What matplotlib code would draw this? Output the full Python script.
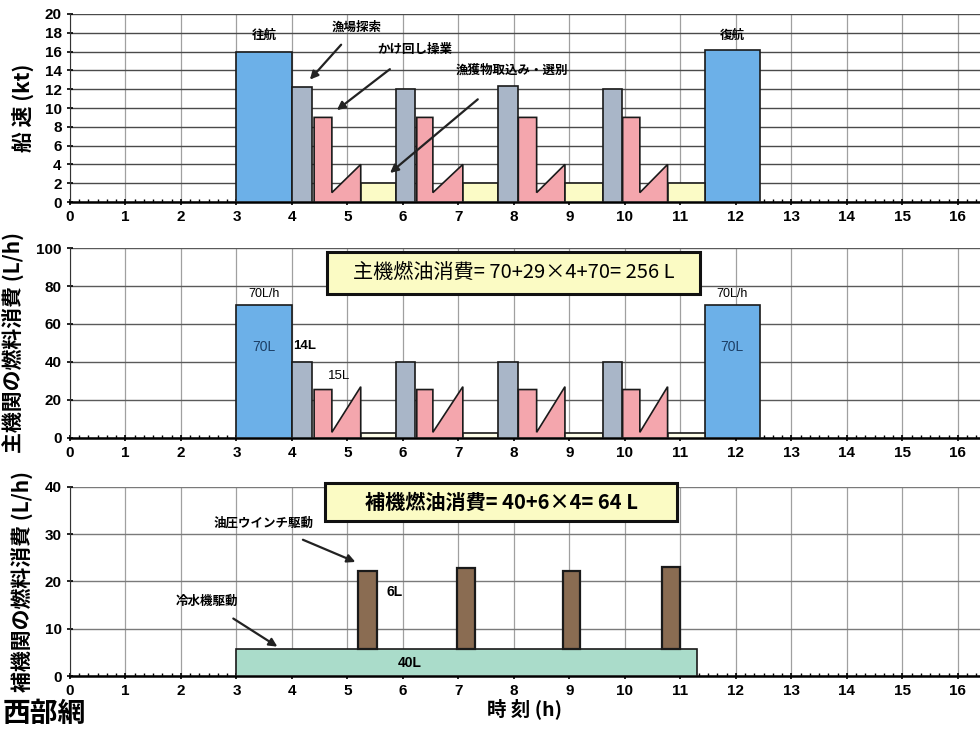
import matplotlib
matplotlib.use("Agg")
import matplotlib.pyplot as plt
from matplotlib.patches import Rectangle
from matplotlib.ticker import MultipleLocator

JP = ["Noto Sans CJK JP", "DejaVu Sans"]
NUM = ["Liberation Sans Narrow", "Liberation Sans", "DejaVu Sans"]
plt.rcParams["font.family"] = JP

# --- data (hours, values) ---
outbound = (3.0, 4.0)           # 往航
return_leg = (11.44, 12.43)     # 復航
search_start = [4.0, 5.88, 7.71, 9.60]      # 漁場探索
search_end = [4.37, 6.22, 8.07, 9.95]
haul_start = [4.40, 6.25, 8.08, 9.96]       # かけ回し操業
haul_step = [4.72, 6.54, 8.41, 10.27]
haul_end = [5.24, 7.08, 8.92, 10.77]
sort_end = [5.87, 7.71, 9.60, 11.44]        # 漁獲物取込み・選別

# ship speed (kt)
spd_outbound, spd_return = 16.0, 16.2
spd_search = [12.2, 12.0, 12.3, 12.0]
spd_haul, spd_haul_low, spd_haul_peak = 9.0, 1.0, 4.0
spd_sort = 2.0

# main engine fuel (L/h)
me_transit = 70
me_search = 40
me_haul, me_haul_low, me_haul_peak = 25.5, 3.0, 27.0
me_sort = 2.5

# auxiliary engine fuel (L/h)
chiller_span = (3.0, 11.3)
chiller_rate = 5.7
winch_start = [5.19, 6.97, 8.88, 10.67]
winch_end = [5.53, 7.30, 9.20, 10.99]
winch_top = [22.2, 22.9, 22.3, 23.1]

C_BLUE = "#6cb0e8"
C_GRAY = "#a9b6c8"
C_PINK = "#f4a6ad"
C_YEL = "#fbfbc6"
C_TEAL = "#aadcca"
C_BROWN = "#8a6c52"
EDGE = "#1a1a1a"

fig = plt.figure(figsize=(9.8, 7.29), dpi=100)
ax1 = fig.add_axes([0.0714, 0.7229, 0.9286, 0.2579])
ax2 = fig.add_axes([0.0714, 0.3992, 0.9286, 0.2606])
ax3 = fig.add_axes([0.0714, 0.0727, 0.9286, 0.2593])


def style(ax, ymax, ystep, ylabel, ygrid):
    ax.set_xlim(0, 16.4)
    ax.set_ylim(0, ymax)
    ax.xaxis.set_major_locator(MultipleLocator(1))
    ax.xaxis.set_minor_locator(MultipleLocator(1 / 6))
    ax.yaxis.set_major_locator(MultipleLocator(ystep))
    ax.grid(axis="x", color="#a0a0a0", lw=0.9)
    ax.grid(axis="y", color=ygrid, lw=1.0)
    ax.set_axisbelow(True)
    for s in ("top", "right"):
        ax.spines[s].set_visible(False)
    ax.spines["left"].set_color("#333333")
    ax.spines["bottom"].set_linewidth(1.8)
    ax.tick_params(axis="both", which="major", length=4, width=1.2,
                   direction="inout", labelsize=11, pad=4)
    ax.tick_params(axis="x", which="minor", length=2.5, width=1.0,
                   direction="in")
    for lab in ax.get_xticklabels() + ax.get_yticklabels():
        lab.set_family(NUM)
        lab.set_fontweight("bold")
    ax.set_ylabel(ylabel, fontsize=15, fontweight="bold", labelpad=8)


def bar(ax, x0, x1, h, color, bottom=0, lw=1.2):
    ax.bar(x0, h, width=x1 - x0, bottom=bottom, align="edge",
           color=color, edgecolor=EDGE, linewidth=lw, zorder=3)


def haul_shape(ax, x0, xs, x1, h, low, peak):
    ax.fill([x0, x0, xs, xs, x1, x1], [0, h, h, low, peak, 0],
            facecolor=C_PINK, edgecolor=EDGE, linewidth=1.2, zorder=3)


def note_box(ax, x0, x1, y0, y1, text, bold):
    ax.add_patch(Rectangle((x0, y0), x1 - x0, y1 - y0, facecolor="#fbfbc4",
                           edgecolor="#111111", linewidth=2.2, zorder=6,
                           clip_on=False))
    ax.text((x0 + x1) / 2, (y0 + y1) / 2, text, ha="center", va="center",
            fontsize=14.5, fontweight="bold" if bold else "normal",
            zorder=7, clip_on=False)


# ---- panel 1: ship speed ----
style(ax1, 20, 2, "船 速 (kt)", "#4a4a4a")
bar(ax1, *outbound, spd_outbound, C_BLUE)
bar(ax1, *return_leg, spd_return, C_BLUE)
for i in range(4):
    bar(ax1, search_start[i], search_end[i], spd_search[i], C_GRAY)
    haul_shape(ax1, haul_start[i], haul_step[i], haul_end[i],
               spd_haul, spd_haul_low, spd_haul_peak)
    bar(ax1, haul_end[i], sort_end[i], spd_sort, C_YEL)

ax1.text(3.5, 17.3, "往航", ha="center", fontsize=9, fontweight="bold")
ax1.text(11.93, 17.3, "復航", ha="center", fontsize=9, fontweight="bold")
arrow = dict(arrowstyle="-|>", color="#222222", lw=1.6, mutation_scale=12)
ax1.annotate("漁場探索", xy=(4.29, 12.8), xytext=(5.17, 18.6),
             ha="center", va="center", fontsize=9, fontweight="bold",
             arrowprops=dict(arrow, shrinkA=8), zorder=5)
ax1.annotate("かけ回し操業", xy=(4.77, 9.6), xytext=(6.22, 16.2),
             ha="center", va="center", fontsize=9, fontweight="bold",
             arrowprops=dict(arrow, shrinkA=12), zorder=5)
ax1.annotate("漁獲物取込み・選別", xy=(5.73, 2.9), xytext=(7.97, 14.0),
             ha="center", va="center", fontsize=9, fontweight="bold",
             arrowprops=dict(arrow, shrinkA=22), zorder=5)

# ---- panel 2: main engine fuel ----
style(ax2, 100, 20, "主機関の燃料消費 (L/h)", "#5a5a5a")
bar(ax2, *outbound, me_transit, C_BLUE)
bar(ax2, *return_leg, me_transit, C_BLUE)
for i in range(4):
    bar(ax2, search_start[i], search_end[i], me_search, C_GRAY)
    haul_shape(ax2, haul_start[i], haul_step[i], haul_end[i],
               me_haul, me_haul_low, me_haul_peak)
    bar(ax2, haul_end[i], sort_end[i], me_sort, "#fdfde8")

for xc in (3.5, 11.93):
    ax2.text(xc, 74, "70L/h", ha="center", fontsize=9, family=NUM, zorder=5)
    ax2.text(xc, 46, "70L", ha="center", fontsize=10, family=NUM,
             color="#1c3f66", zorder=5)
ax2.text(4.23, 47, "14L", ha="center", fontsize=9.5, family=NUM,
         fontweight="bold", zorder=5)
ax2.text(4.85, 31, "15L", ha="center", fontsize=9.5, family=NUM, zorder=5)
note_box(ax2, 4.63, 11.35, 76, 98, "主機燃油消費= 70+29×4+70= 256 L", False)

# ---- panel 3: auxiliary engine fuel ----
style(ax3, 40, 10, "補機関の燃料消費 (L/h)", "#7a7a7a")
bar(ax3, *chiller_span, chiller_rate, C_TEAL)
for i in range(4):
    bar(ax3, winch_start[i], winch_end[i], winch_top[i] - chiller_rate,
        C_BROWN, bottom=chiller_rate, lw=1.6)

ax3.text(6.13, 1.8, "40L", ha="center", fontsize=10, family=NUM,
         fontweight="bold", zorder=5)
ax3.text(5.85, 17, "6L", ha="center", fontsize=10, family=NUM,
         fontweight="bold", zorder=5)
ax3.annotate("油圧ウインチ駆動", xy=(5.19, 23.9), xytext=(3.48, 32.4),
             ha="center", va="center", fontsize=9, fontweight="bold",
             arrowprops=dict(arrow, shrinkA=14), zorder=5)
ax3.annotate("冷水機駆動", xy=(3.78, 5.9), xytext=(2.47, 15.7),
             ha="center", va="center", fontsize=9, fontweight="bold",
             arrowprops=dict(arrow, shrinkA=10), zorder=5)
note_box(ax3, 4.6, 10.94, 32.8, 40.8, "補機燃油消費= 40+6×4= 64 L", True)
ax3.set_xlabel("時 刻 (h)", fontsize=14, fontweight="bold", labelpad=0)

fig.text(0.003, 0.002, "西部網", fontsize=20, fontweight="bold",
         ha="left", va="bottom")

fig.savefig("out.png", dpi=100)
